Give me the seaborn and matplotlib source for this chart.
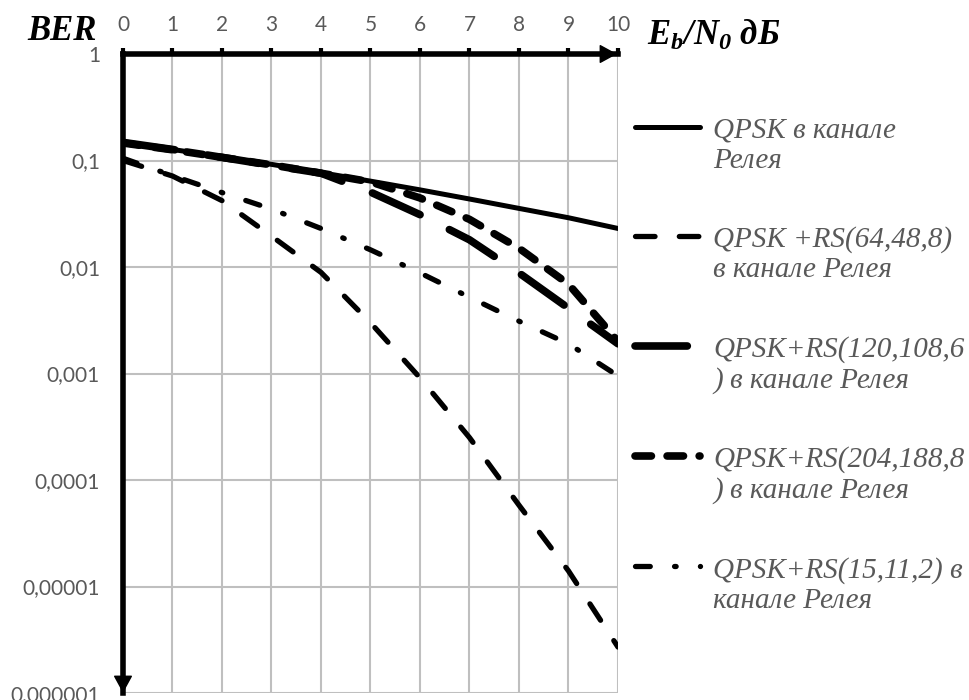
import numpy as np
import pandas as pd
import matplotlib
matplotlib.use("Agg")
import matplotlib.pyplot as plt
import seaborn as sns
from matplotlib.lines import Line2D
from matplotlib.legend_handler import HandlerLine2D
from matplotlib.ticker import FixedLocator, FixedFormatter, NullLocator

# ---------------- data ----------------
snr_db = [0, 1, 2, 3, 4, 5, 6, 7, 8, 9, 10]
ber_qpsk = [0.146, 0.127, 0.108, 0.092, 0.077, 0.064, 0.053, 0.0435, 0.0355, 0.029, 0.023]
ber_rs_64_48 = [0.1, 0.0715, 0.042, 0.0195, 0.0089, 0.003, 0.00091, 0.00025, 5.8e-5, 1.4e-5, 2.7e-6]
ber_rs_120_108 = [0.148, 0.127, 0.107, 0.09, 0.076, 0.0505, 0.031, 0.018, 0.0088, 0.0041, 0.0019]
ber_rs_204_188 = [0.146, 0.126, 0.107, 0.091, 0.076, 0.063, 0.0445, 0.028, 0.015, 0.0069, 0.002]
ber_rs_15_11 = [0.105, 0.072, 0.05, 0.035, 0.023, 0.0145, 0.0088, 0.0052, 0.0031, 0.0019, 0.00095]

series_labels = [
    "QPSK в канале\nРелея",
    "QPSK +RS(64,48,8)\nв канале Релея",
    "QPSK+RS(120,108,6\n) в канале Релея",
    "QPSK+RS(204,188,8\n) в канале Релея",
    "QPSK+RS(15,11,2) в\nканале Релея",
]
x_ticks = [0, 1, 2, 3, 4, 5, 6, 7, 8, 9, 10]
x_tick_labels = ["0", "1", "2", "3", "4", "5", "6", "7", "8", "9", "10"]
y_ticks = [1e-6, 1e-5, 1e-4, 1e-3, 1e-2, 1e-1, 1]
y_tick_labels = ["0,000001", "0,00001", "0,0001", "0,001", "0,01", "0,1", "1"]
y_axis_title = "BER"
x_axis_title = r"$E_b/N_0$ дБ"

# ---------------- styles ----------------
series_values = [ber_qpsk, ber_rs_64_48, ber_rs_120_108, ber_rs_204_188, ber_rs_15_11]
styles = [
    dict(lw=3.6, dashes=None),
    dict(lw=3.8, dashes=(3.7, 4.6)),
    dict(lw=5.5, dashes=(6.85, 4.3)),
    dict(lw=5.5, dashes=(2.15, 2.05)),
    dict(lw=3.8, dashes=(2.8, 4.6, 0.3, 4.6)),
]

sns.set_style("white")
plt.rcParams["font.family"] = ["Lato", "DejaVu Sans"]
plt.rcParams["mathtext.fontset"] = "custom"
plt.rcParams["mathtext.rm"] = "Liberation Serif:italic:bold"
plt.rcParams["mathtext.it"] = "Liberation Serif:italic:bold"
plt.rcParams["mathtext.bf"] = "Liberation Serif:italic:bold"

fig = plt.figure(figsize=(9.7, 7.0), dpi=100)
ax = fig.add_axes([123 / 970, 0.01, (618 - 123) / 970, 1 - 54 / 700 - 0.01])

frames = []
for lab, vals in zip(series_labels, series_values):
    frames.append(pd.DataFrame({"snr": snr_db, "ber": vals, "series": lab}))
df = pd.concat(frames, ignore_index=True)

handles = []
for lab, st in zip(series_labels, styles):
    sub = df[df["series"] == lab]
    sns.lineplot(data=sub, x="snr", y="ber", ax=ax, color="black",
                 linewidth=st["lw"], errorbar=None, legend=False)
    ln = ax.lines[-1]
    if st["dashes"] is not None:
        ln.set_dashes(st["dashes"])
    ln.set_dash_capstyle("round")
    ln.set_solid_capstyle("round")
    ln.set_solid_joinstyle("round")
    ln.set_dash_joinstyle("round")
    handles.append(ln)

ax.set_yscale("log")
ax.set_xlim(0, 10)
ax.set_ylim(1e-6, 1)
ax.set_xlabel("")
ax.set_ylabel("")

ax.xaxis.set_major_locator(FixedLocator(x_ticks))
ax.xaxis.set_major_formatter(FixedFormatter(x_tick_labels))
ax.yaxis.set_major_locator(FixedLocator(y_ticks))
ax.yaxis.set_major_formatter(FixedFormatter(y_tick_labels))
ax.yaxis.set_minor_locator(NullLocator())
ax.xaxis.tick_top()

ax.grid(True, which="major", color="#bfbfbf", lw=1.5)
ax.set_axisbelow(True)
for s in ["right", "bottom"]:
    ax.spines[s].set_visible(False)
for s in ["top", "left"]:
    ax.spines[s].set_linewidth(4.0)
    ax.spines[s].set_color("black")
    ax.spines[s].set_zorder(5)

ax.tick_params(axis="x", which="major", direction="out", length=4.5, width=3,
               color="black", labelsize=15, labelcolor="#595959", pad=9,
               top=True, bottom=False, labeltop=True, labelbottom=False)
ax.tick_params(axis="y", which="major", direction="out", length=4.5, width=2.5,
               color="black", labelsize=15, labelcolor="#595959", pad=12)

# arrow heads on the axes
arrow_kw = dict(arrowstyle="-|>,head_length=0.55,head_width=0.3", color="black",
                lw=1, shrinkA=0, shrinkB=0, mutation_scale=20)
ax.annotate("", xy=(0.998, 1.0), xytext=(0.95, 1.0), xycoords="axes fraction",
            textcoords="axes fraction", arrowprops=arrow_kw, annotation_clip=False, zorder=6)
ax.annotate("", xy=(0.0, 0.0), xytext=(0.0, 0.04), xycoords="axes fraction",
            textcoords="axes fraction", arrowprops=arrow_kw, annotation_clip=False, zorder=6)

# axis titles
fig.text(97 / 970, 1 - 40 / 700, y_axis_title, ha="right", va="baseline",
         fontsize=25, family="Liberation Serif", weight="bold", style="italic", color="black")
fig.text(647 / 970, 1 - 45 / 700, x_axis_title, ha="left", va="baseline",
         fontsize=25, family="Liberation Serif", weight="bold", style="italic", color="black")


class UpHandler(HandlerLine2D):
    def __init__(self, shift, **kw):
        super().__init__(**kw)
        self.shift = shift

    def create_artists(self, legend, orig_handle, xdescent, ydescent, width,
                       height, fontsize, trans):
        arts = super().create_artists(legend, orig_handle, xdescent, ydescent,
                                      width, height, fontsize, trans)
        for a in arts:
            a.set_ydata(np.asarray(a.get_ydata()) + self.shift)
        return arts


leg_fs = 21
leg = fig.legend(handles=handles, labels=series_labels, loc="upper left",
                 bbox_to_anchor=(635 / 970, 1 - 118 / 700), frameon=False,
                 borderpad=0, borderaxespad=0, handlelength=2.23,
                 handletextpad=0.45, labelspacing=1.8,
                 prop=dict(family="Liberation Serif", style="italic", size=leg_fs),
                 labelcolor="#595959",
                 handler_map={Line2D: UpHandler(shift=13.6)})

fig.savefig("out.png", dpi=100)
